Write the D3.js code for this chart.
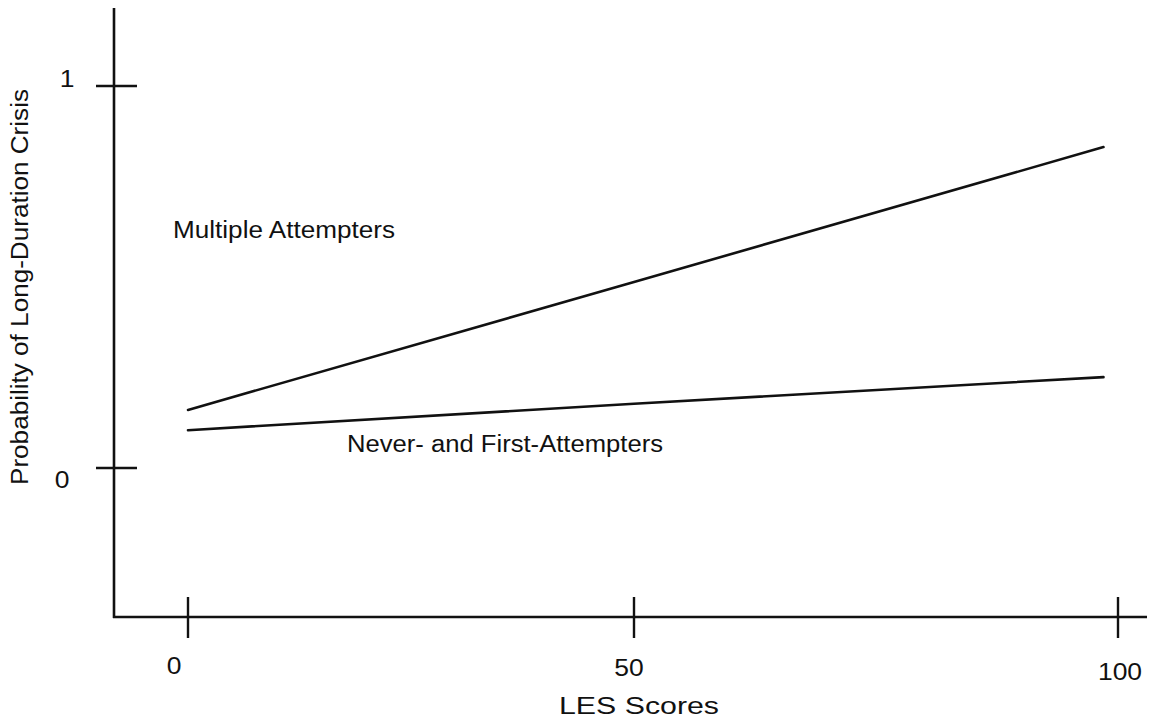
<!DOCTYPE html>
<html>
<head>
<meta charset="utf-8">
<script src="https://cdn.jsdelivr.net/npm/d3@7"></script>
<style>
  html, body { margin: 0; padding: 0; background: #fff; }
  svg { display: block; }
  text { font-family: "Liberation Sans", Arial, Helvetica, sans-serif; fill: #111; }
</style>
</head>
<body>
<script>
// LES score positions where each fitted line is evaluated
const lesScores = [0, 50, 98.5];
// Fitted probability of a long-duration crisis per group
const multipleAttempters = [0.152, 0.487, 0.840];
const neverFirstAttempters = [0.099, 0.168, 0.238];
// Axis ticks
const xTicks = [0, 50, 100];
const xTickLabels = ["0", "50", "100"];
const yTicks = [0, 1];
const yTickLabels = ["0", "1"];

const W = 1162, H = 719;
const svg = d3.select("body").append("svg").attr("width", W).attr("height", H);

const x = d3.scaleLinear().domain([0, 50, 100]).range([188, 634, 1118]);
const y = d3.scaleLinear().domain([0, 1]).range([468, 86]);

const axisX = 114;   // vertical axis position
const axisY = 617;   // horizontal axis position
const ink = "#111";

// Text helper: the lettering is set wide, so each label gets a fitted length
function label(str, px, py, opts = {}) {
  const size = opts.size || 23;
  const t = svg.append("text").attr("font-size", size).text(str);
  const natural = t.node().getComputedTextLength();
  const w = opts.width || natural * 1.15;
  t.attr("textLength", w).attr("lengthAdjust", "spacingAndGlyphs");
  if (opts.rotate) {
    t.attr("transform", `translate(${px},${py}) rotate(-90)`)
     .attr("x", -w / 2).attr("y", 0);
    return t;
  }
  let x0 = px;
  if (opts.anchor === "middle") x0 = px - w / 2;
  if (opts.anchor === "end") x0 = px - w;
  t.attr("x", x0).attr("y", py);
  return t;
}

// Axis lines
svg.append("line").attr("x1", axisX).attr("x2", axisX).attr("y1", 8).attr("y2", axisY + 1)
  .attr("stroke", ink).attr("stroke-width", 2.6);
svg.append("line").attr("x1", axisX - 1).attr("x2", 1147).attr("y1", axisY).attr("y2", axisY)
  .attr("stroke", ink).attr("stroke-width", 2.4);

// Y ticks cross the axis
svg.selectAll(".ytick").data(yTicks).join("line")
  .attr("x1", axisX - 18).attr("x2", axisX + 23)
  .attr("y1", d => y(d)).attr("y2", d => y(d))
  .attr("stroke", ink).attr("stroke-width", 2.4);

// X ticks cross the axis
svg.selectAll(".xtick").data(xTicks).join("line")
  .attr("x1", d => x(d)).attr("x2", d => x(d))
  .attr("y1", axisY - 20).attr("y2", axisY + 21)
  .attr("stroke", ink).attr("stroke-width", 2.4);

// Tick labels
const xLabelShift = [-14, -5, 2];
const xLabelBase = [674, 676, 680];
xTicks.forEach((d, i) => label(xTickLabels[i], x(d) + xLabelShift[i], xLabelBase[i], { anchor: "middle" }));
const yLabelPos = [[62, 488], [67, 87]];
yTicks.forEach((d, i) => label(yTickLabels[i], yLabelPos[i][0], yLabelPos[i][1], { anchor: "middle" }));

// Axis titles
label("LES Scores", 639, 714, { anchor: "middle", width: 160 });
label("Probability of Long-Duration Crisis", 28, 287, { rotate: true, width: 396 });

// Fitted lines
const line = d3.line().x(d => x(d[0])).y(d => y(d[1]));
[multipleAttempters, neverFirstAttempters].forEach(series => {
  svg.append("path")
    .datum(lesScores.map((s, i) => [s, series[i]]))
    .attr("d", line)
    .attr("fill", "none")
    .attr("stroke", ink)
    .attr("stroke-width", 2.6)
    .attr("stroke-linecap", "round");
});

// Group labels
label("Multiple Attempters", 173, 238, { width: 222 });
label("Never- and First-Attempters", 347, 452, { width: 316 });
</script>
</body>
</html>
